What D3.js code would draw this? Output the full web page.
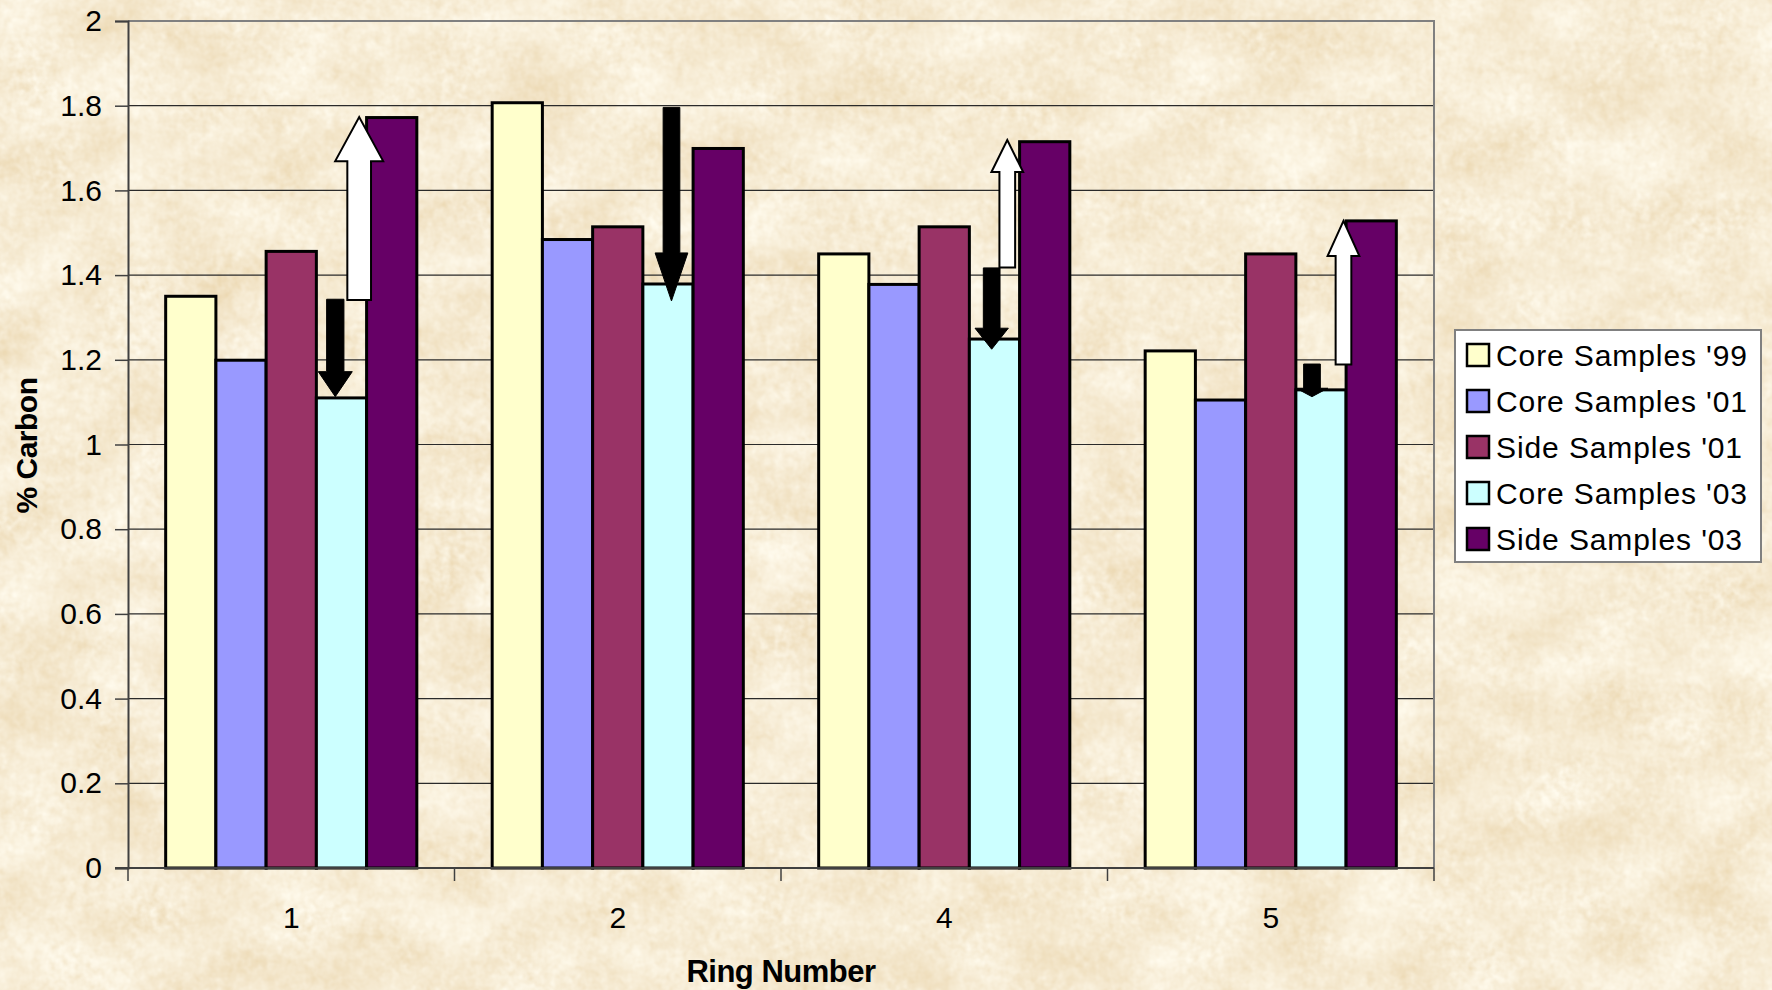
<!DOCTYPE html>
<html>
<head>
<meta charset="utf-8">
<script src="https://cdn.jsdelivr.net/npm/d3@7"></script>
<style>
  html, body { margin: 0; padding: 0; background: #ebd5aa; }
  svg { display: block; }
  text { font-family: "Liberation Sans", Arial, sans-serif; fill: #000; }
</style>
</head>
<body>
<svg id="chart" width="1772" height="990"></svg>
<script>
// Ring numbers along the x axis
const categories = ["1", "2", "4", "5"];

// % carbon per ring, one array per sample set
const seriesNames = ["Core Samples '99", "Core Samples '01", "Side Samples '01", "Core Samples '03", "Side Samples '03"];
const core99 = [1.35, 1.807, 1.45, 1.221];
const core01 = [1.199, 1.484, 1.378, 1.105];
const side01 = [1.456, 1.514, 1.514, 1.45];
const core03 = [1.11, 1.379, 1.249, 1.129];
const side03 = [1.772, 1.699, 1.715, 1.528];
const seriesValues = [core99, core01, side01, core03, side03];

const yTicks = [0, 0.2, 0.4, 0.6, 0.8, 1, 1.2, 1.4, 1.6, 1.8, 2];

// Change arrows: ring, start value, end value, direction
const arrowRing = ["1", "1", "2", "4", "4", "5", "5"];
const arrowFrom = [1.343, 1.341, 1.796, 1.417, 1.418, 1.190, 1.189];
const arrowTo   = [1.113, 1.773, 1.339, 1.225, 1.719, 1.113, 1.528];
const arrowKind = ["fall", "rise", "fall", "fall", "rise", "fall", "rise"];

// Arrow drawing geometry (px): offset from the '03 core bar centre, shaft width, head width, head length
const arrowShape = [
  { dx: -6.2, shaft: 17.3, head: 34,   headLen: 25 },
  { dx: 17.7, shaft: 23.7, head: 48,   headLen: 44 },
  { dx: 3.5,  shaft: 16.7, head: 32.7, headLen: 48 },
  { dx: -2.8, shaft: 16.7, head: 33.3, headLen: 21 },
  { dx: 12.8, shaft: 15.7, head: 31.7, headLen: 32 },
  { dx: -9,   shaft: 16.7, head: 31.7, headLen: 8.4 },
  { dx: 22.5, shaft: 15.7, head: 31.7, headLen: 35 }
];

const colors = ["#FFFFCC", "#9999FF", "#993366", "#CCFFFF", "#660066"];

const W = 1772, H = 990;
const plot = { left: 128, right: 1434, top: 21, bottom: 868 };

const svg = d3.select("#chart");
const defs = svg.append("defs");

// Parchment texture: soft mottling plus fine grain
const f = defs.append("filter").attr("id", "parchment")
  .attr("x", 0).attr("y", 0).attr("width", W).attr("height", H)
  .attr("filterUnits", "userSpaceOnUse");
f.append("feTurbulence").attr("type", "fractalNoise")
  .attr("baseFrequency", "0.012 0.016").attr("numOctaves", 4).attr("seed", 11).attr("result", "mottle");
f.append("feTurbulence").attr("type", "fractalNoise")
  .attr("baseFrequency", "0.12").attr("numOctaves", 2).attr("seed", 3).attr("result", "grain");
f.append("feComposite").attr("in", "mottle").attr("in2", "grain")
  .attr("operator", "arithmetic").attr("k1", 0).attr("k2", 0.62).attr("k3", 0.38).attr("k4", 0)
  .attr("result", "mix");
f.append("feColorMatrix").attr("in", "mix").attr("type", "matrix")
  .attr("values", [
    0.25, 0, 0, 0, 0.80,
    0.42, 0, 0, 0, 0.625,
    0.62, 0, 0, 0, 0.35,
    0, 0, 0, 0, 1
  ].join(" "));

svg.append("rect").attr("width", W).attr("height", H)
  .attr("fill", "#ebd5aa").attr("filter", "url(#parchment)");

const x = d3.scaleBand().domain(categories).range([plot.left, plot.right]).paddingInner(0).paddingOuter(0);
const y = d3.scaleLinear().domain([0, 2]).range([plot.bottom, plot.top]);
const barW = x.bandwidth() / 6.5;
const barX = (cat, j) => x(cat) + barW * (0.75 + j);

// Gridlines
svg.append("g").selectAll("line")
  .data(yTicks.filter(v => v > 0 && v < 2))
  .join("line")
  .attr("x1", plot.left).attr("x2", plot.right)
  .attr("y1", d => y(d)).attr("y2", d => y(d))
  .attr("stroke", "#2a2a2a").attr("stroke-width", 1.2);

// Plot frame (top and right edges)
svg.append("path")
  .attr("d", `M${plot.left},${plot.top}H${plot.right}V${plot.bottom}`)
  .attr("fill", "none").attr("stroke", "#808080").attr("stroke-width", 2);

// Bars
const rows = [];
categories.forEach((c, i) => seriesValues.forEach((vals, j) => rows.push({ c, j, v: vals[i] })));
svg.append("g").selectAll("rect")
  .data(rows)
  .join("rect")
  .attr("x", d => barX(d.c, d.j))
  .attr("y", d => y(d.v))
  .attr("width", barW)
  .attr("height", d => y(0) - y(d.v))
  .attr("fill", d => colors[d.j])
  .attr("stroke", "#000").attr("stroke-width", 3);

// Y axis
const yAxis = svg.append("g")
  .attr("transform", `translate(${plot.left},0)`)
  .call(d3.axisLeft(y).tickValues(yTicks).tickSize(13).tickPadding(13).tickFormat(d3.format("")));
yAxis.select(".domain").attr("stroke", "#404040").attr("stroke-width", 2);
yAxis.selectAll(".tick line").attr("stroke", "#404040").attr("stroke-width", 1.5);
yAxis.selectAll(".tick text").attr("font-size", 30).attr("font-family", "Liberation Sans, Arial, sans-serif").attr("fill", "#000");

// X axis: baseline with tick marks at ring boundaries
const xAxis = svg.append("g");
xAxis.append("line")
  .attr("x1", plot.left - 13).attr("x2", plot.right)
  .attr("y1", plot.bottom).attr("y2", plot.bottom)
  .attr("stroke", "#404040").attr("stroke-width", 2);
const bounds = categories.map(c => x(c)).concat([x(categories[categories.length - 1]) + x.bandwidth()]);
xAxis.selectAll("line.tk").data(bounds).join("line").attr("class", "tk")
  .attr("x1", d => d).attr("x2", d => d)
  .attr("y1", plot.bottom).attr("y2", plot.bottom + 13)
  .attr("stroke", "#404040").attr("stroke-width", 1.5);
xAxis.selectAll("text").data(categories).join("text")
  .attr("x", d => x(d) + x.bandwidth() / 2)
  .attr("y", 928)
  .attr("text-anchor", "middle")
  .attr("font-size", 30)
  .text(d => d);

// Arrows showing change in carbon
const arrowPath = (i) => {
  const s = arrowShape[i];
  const cx = barX(arrowRing[i], 3) + barW / 2 + s.dx;
  const y0 = y(arrowFrom[i]), y1 = y(arrowTo[i]);
  const dir = y1 > y0 ? 1 : -1;
  const hb = y1 - dir * s.headLen;
  const a = s.shaft / 2, b = s.head / 2;
  return `M${cx - a},${y0}H${cx + a}V${hb}H${cx + b}L${cx},${y1}L${cx - b},${hb}H${cx - a}Z`;
};
svg.append("g").selectAll("path")
  .data(d3.range(arrowRing.length))
  .join("path")
  .attr("d", i => arrowPath(i))
  .attr("fill", i => arrowKind[i] === "fall" ? "#000" : "#fff")
  .attr("stroke", "#000")
  .attr("stroke-width", i => arrowKind[i] === "fall" ? 1 : 2)
  .attr("stroke-linejoin", "miter");

// Axis titles
svg.append("text")
  .attr("x", (plot.left + plot.right) / 2).attr("y", 982)
  .attr("text-anchor", "middle")
  .attr("font-size", 31).attr("font-weight", "bold")
  .attr("letter-spacing", -0.5)
  .text("Ring Number");
svg.append("text")
  .attr("transform", `translate(37,${(plot.top + plot.bottom) / 2 + 1}) rotate(-90)`)
  .attr("text-anchor", "middle")
  .attr("font-size", 30).attr("font-weight", "bold")
  .attr("letter-spacing", -0.5)
  .text("% Carbon");

// Legend
const lg = svg.append("g").attr("transform", "translate(1455,330)");
lg.append("rect").attr("width", 306).attr("height", 232)
  .attr("fill", "#fff").attr("stroke", "#808080").attr("stroke-width", 2);
const items = lg.selectAll("g.item").data(seriesNames).join("g").attr("class", "item")
  .attr("transform", (d, i) => `translate(0,${25 + i * 46})`);
items.append("rect")
  .attr("x", 12).attr("y", -11).attr("width", 22).attr("height", 22)
  .attr("fill", (d, i) => colors[i]).attr("stroke", "#000").attr("stroke-width", 2.5);
items.append("text")
  .attr("x", 41).attr("y", 11)
  .attr("font-size", 30)
  .attr("letter-spacing", 0.9)
  .text(d => d);
</script>
</body>
</html>
